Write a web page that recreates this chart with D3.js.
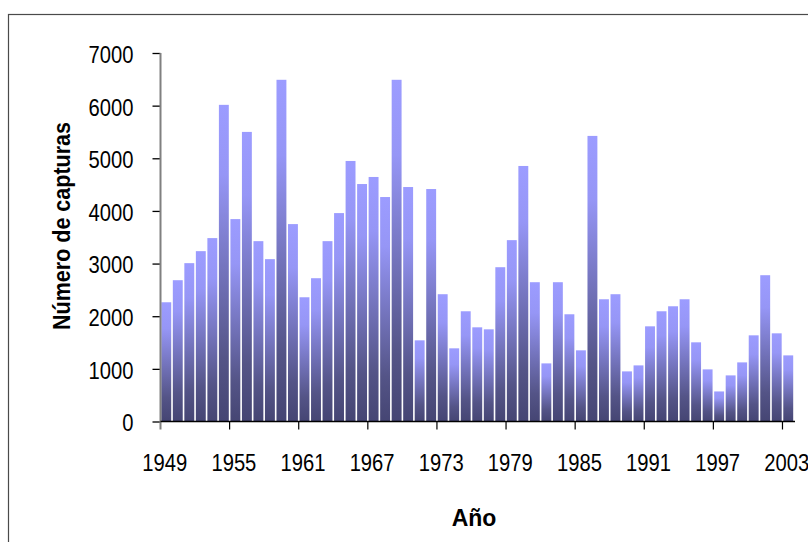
<!DOCTYPE html>
<html>
<head>
<meta charset="utf-8">
<script src="https://cdn.jsdelivr.net/npm/d3@7"></script>
<style>
  html, body { margin: 0; padding: 0; background: #fff; }
  svg { display: block; }
  .tick-label { font-family: "Liberation Sans", Arial, sans-serif; font-size: 23.5px; fill: #000; }
  .axis-title { font-family: "Liberation Sans", Arial, sans-serif; font-weight: bold; fill: #000; }
</style>
</head>
<body>
<svg id="chart" width="808" height="542"></svg>
<script>
// Annual catches, 1949–2003
const years = d3.range(1949, 2004);
const captures = [
  2265, 2684, 3008, 3236, 3484, 6015, 3845, 5501, 3426, 3084,
  6491, 3750, 2360, 2722, 3426, 3959, 4949, 4511, 4645, 4264,
  6491, 4454, 1542, 4416, 2418, 1390, 2094, 1789, 1751, 2931,
  3445, 4854, 2646, 1104, 2646, 2037, 1352, 5425, 2322, 2418,
  952, 1066, 1808, 2094, 2189, 2322, 1504, 990, 571, 876,
  1123, 1637, 2779, 1675, 1256
];
const yTicks = [0, 1000, 2000, 3000, 4000, 5000, 6000, 7000];
const labelYears = [1949, 1955, 1961, 1967, 1973, 1979, 1985, 1991, 1997, 2003];
const yTitle = "Número de capturas";
const xTitle = "Año";

// Narrow look for tick labels: horizontal squeeze of a regular sans face
const squeeze = 0.86;

const svg = d3.select("#chart");

// Outer chart frame
svg.append("rect")
  .attr("x", 8.5).attr("y", 14.5)
  .attr("width", 830).attr("height", 560)
  .attr("fill", "#fff")
  .attr("stroke", "#4a4a4a")
  .attr("stroke-width", 1.2);

const plot = { left: 160.5, right: 794, top: 53, bottom: 421.5 };

const x = d3.scaleBand()
  .domain(years)
  .range([plot.left, plot.right])
  .paddingInner(0.14)
  .paddingOuter(0.07);

const y = d3.scaleLinear()
  .domain([0, 7000])
  .range([plot.bottom, plot.top]);

// Vertical gradient applied per bar
const defs = svg.append("defs");
const grad = defs.append("linearGradient")
  .attr("id", "barFill")
  .attr("x1", 0).attr("y1", 0).attr("x2", 0).attr("y2", 1);
grad.append("stop").attr("offset", "0%").attr("stop-color", "#9c9cff");
grad.append("stop").attr("offset", "22%").attr("stop-color", "#9696f6");
grad.append("stop").attr("offset", "80%").attr("stop-color", "#545487");
grad.append("stop").attr("offset", "100%").attr("stop-color", "#454573");

svg.append("g")
  .selectAll("rect")
  .data(years.map((yr, i) => ({ year: yr, value: captures[i] })))
  .join("rect")
  .attr("x", d => x(d.year))
  .attr("y", d => y(d.value))
  .attr("width", x.bandwidth())
  .attr("height", d => y(0) - y(d.value))
  .attr("fill", "url(#barFill)");

// Y axis
const yAxis = svg.append("g")
  .attr("transform", `translate(${plot.left},0)`)
  .call(d3.axisLeft(y).tickValues(yTicks).tickSize(8).tickPadding(19).tickFormat(d3.format("d")));
yAxis.select(".domain").remove();
yAxis.attr("font-family", null).attr("font-size", null);
yAxis.selectAll(".tick line").attr("stroke", "#000").attr("stroke-width", 1.3);
yAxis.selectAll(".tick text")
  .attr("class", "tick-label")
  .attr("x", -27 / squeeze)
  .attr("dy", "0.4em")
  .attr("transform", `scale(${squeeze},1)`);

// Y axis line (gray), running down to the x tick length
svg.append("line")
  .attr("x1", plot.left).attr("x2", plot.left)
  .attr("y1", y(7000)).attr("y2", plot.bottom + 8)
  .attr("stroke", "#808080").attr("stroke-width", 2);

// X axis: labels centred on categories
const xAxis = svg.append("g")
  .attr("transform", `translate(0,${plot.bottom})`)
  .call(d3.axisBottom(x).tickValues(labelYears).tickSize(0).tickPadding(0));
xAxis.select(".domain").remove();
xAxis.attr("font-family", null).attr("font-size", null);
xAxis.selectAll(".tick text")
  .attr("class", "tick-label")
  .attr("x", -1.5 / squeeze)
  .attr("y", 50).attr("dy", 0)
  .attr("transform", `scale(${squeeze},1)`);

// X axis line and boundary ticks every six categories
svg.append("line")
  .attr("x1", plot.left).attr("x2", plot.right + 1)
  .attr("y1", plot.bottom).attr("y2", plot.bottom)
  .attr("stroke", "#000").attr("stroke-width", 1.3);
const step = x.step();
const boundary = yr => x(yr) - step * x.paddingInner() / 2;
svg.append("g")
  .selectAll("line")
  .data(labelYears.slice(1))
  .join("line")
  .attr("x1", d => boundary(d))
  .attr("x2", d => boundary(d))
  .attr("y1", plot.bottom).attr("y2", plot.bottom + 8)
  .attr("stroke", "#000").attr("stroke-width", 1.2);

// Axis titles
svg.append("text")
  .attr("class", "axis-title")
  .attr("x", 474).attr("y", 525.5)
  .attr("text-anchor", "middle")
  .attr("font-size", 23)
  .text(xTitle);

svg.append("text")
  .attr("class", "axis-title")
  .attr("transform", "translate(70,226) rotate(-90)")
  .attr("text-anchor", "middle")
  .attr("font-size", 23)
  .attr("textLength", 208)
  .attr("lengthAdjust", "spacingAndGlyphs")
  .text(yTitle);
</script>
</body>
</html>
